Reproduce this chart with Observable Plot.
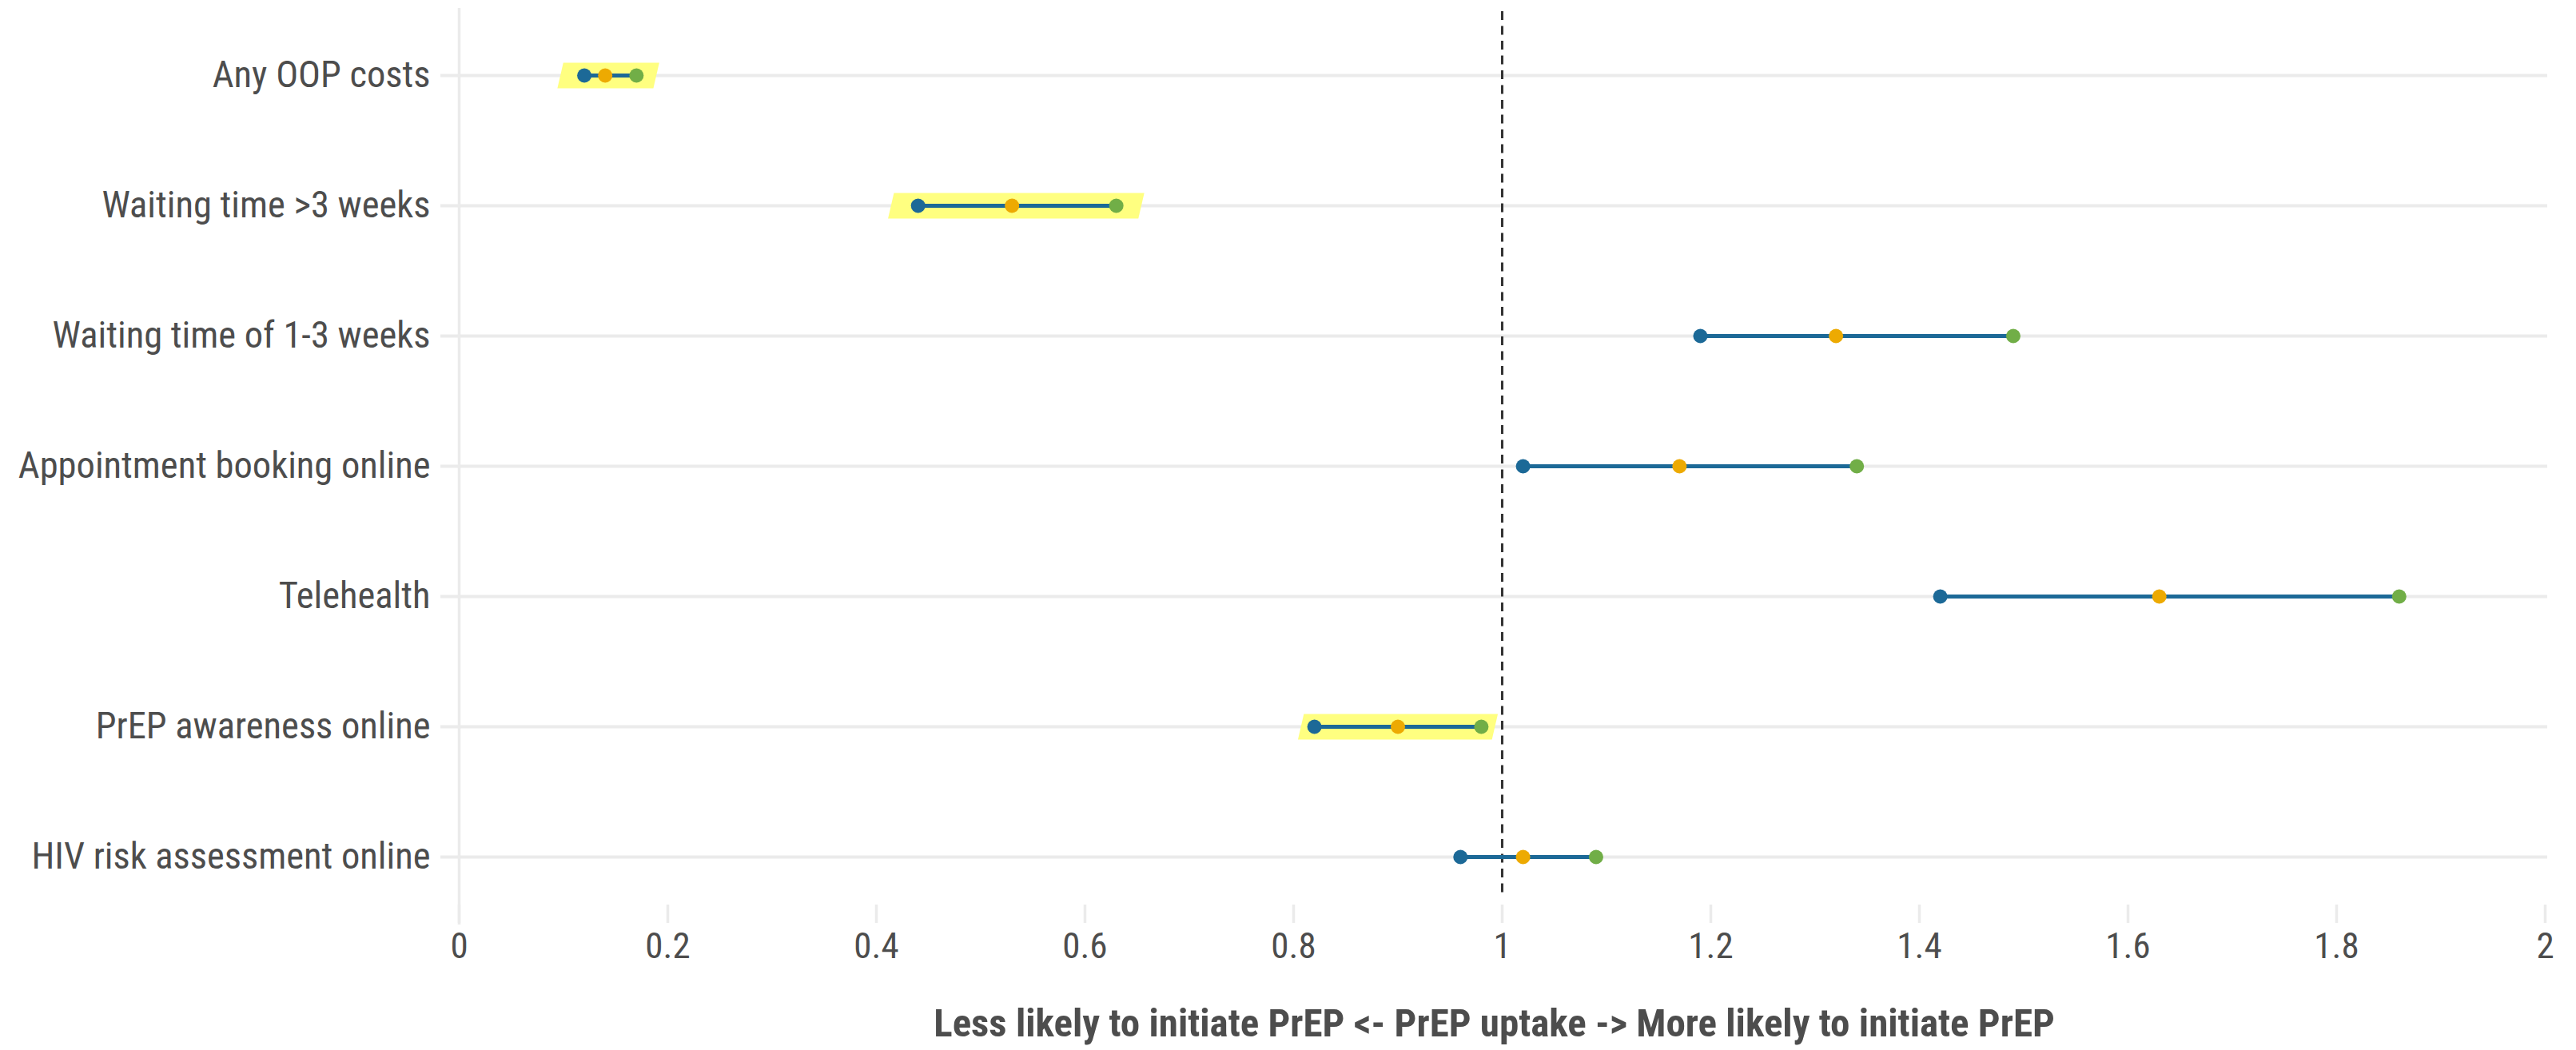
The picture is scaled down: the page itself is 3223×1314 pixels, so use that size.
<!DOCTYPE html>
<html><head><meta charset="utf-8">
<script src="https://cdn.jsdelivr.net/npm/d3@7"></script>
<script src="https://cdn.jsdelivr.net/npm/@observablehq/plot@0.6"></script>
<style>
html,body{margin:0;padding:0;background:#fff;}
#chart svg{display:block;}
</style></head><body><div id="chart"></div>
<script>
const categories = ["Any OOP costs", "Waiting time >3 weeks", "Waiting time of 1-3 weeks", "Appointment booking online", "Telehealth", "PrEP awareness online", "HIV risk assessment online"];
const lower    = [0.12, 0.44, 1.19, 1.02, 1.42, 0.82, 0.96];
const estimate = [0.14, 0.53, 1.32, 1.17, 1.63, 0.90, 1.02];
const upper    = [0.17, 0.63, 1.49, 1.34, 1.86, 0.98, 1.09];
const highlighted   = ["Any OOP costs", "Waiting time >3 weeks", "PrEP awareness online"];
const highlightFrom = [0.097, 0.414, 0.807];
const highlightTo   = [0.189, 0.654, 0.993];
const xTicks = [0, 0.2, 0.4, 0.6, 0.8, 1, 1.2, 1.4, 1.6, 1.8, 2];
const xTickLabels = ["0", "0.2", "0.4", "0.6", "0.8", "1", "1.2", "1.4", "1.6", "1.8", "2"];
const referenceValue = [1];
const zeroLine = [0];
const xTitle = "Less likely to initiate PrEP <- PrEP uptake -> More likely to initiate PrEP";

const rows = categories.map((c, i) => ({cat: c, lo: lower[i], est: estimate[i], hi: upper[i]}));
const hl = highlighted.map((c, i) => ({cat: c, from: highlightFrom[i], to: highlightTo[i]}));

const FONT = '"Roboto Condensed", "Liberation Sans Narrow", "DejaVu Sans Condensed", Roboto, sans-serif';
const GRID = "#ebebeb";
const TEXT = "#4d4d4d";
const BLUE = "#1c6997", ORANGE = "#edaa02", GREEN = "#71ae47";

const svg = Plot.plot({
  width: 3223,
  height: 1314,
  marginLeft: 551,
  marginRight: 36,
  marginTop: 14,
  marginBottom: 182,
  style: {fontFamily: FONT, fontSize: "46px", color: TEXT, background: "#fff"},
  x: {domain: [0, 2], insetLeft: 23, insetRight: 3},
  y: {type: "point", domain: categories, padding: 0, insetTop: 78, insetBottom: 59},
  marks: [
    Plot.gridY({stroke: GRID, strokeOpacity: 1, strokeWidth: 4}),
    Plot.ruleX(zeroLine, {stroke: GRID, strokeWidth: 3.5, insetTop: -4, insetBottom: -25}),
    Plot.axisX({ticks: xTicks, tickSize: 23, stroke: GRID, strokeWidth: 3.5, fill: "none"}),
    Plot.axisX({ticks: xTicks, tickSize: 0, tickPadding: 35, fill: TEXT, fontSize: 45,
      tickFormat: (d) => xTickLabels[xTicks.indexOf(d)], label: null}),
    Plot.axisY({tickSize: 0, tickPadding: 13, fill: TEXT, fontSize: 46.5, label: null}),
    Plot.link(hl, {x1: "from", x2: "to", y1: "cat", y2: "cat", stroke: "#ffff80", strokeWidth: 32}),
    Plot.ruleX(referenceValue, {stroke: "#333333", strokeWidth: 3, strokeDasharray: "11,7.5", insetBottom: 15}),
    Plot.ruleY(rows, {y: "cat", x1: "lo", x2: "hi", stroke: BLUE, strokeWidth: 5}),
    Plot.dot(rows, {x: "lo", y: "cat", r: 9, fill: BLUE}),
    Plot.dot(rows, {x: "est", y: "cat", r: 9, fill: ORANGE}),
    Plot.dot(rows, {x: "hi", y: "cat", r: 9, fill: GREEN}),
    Plot.text([xTitle], {frameAnchor: "bottom", dy: 164, fontWeight: "bold", fontSize: 49, fill: TEXT, fontFamily: FONT})
  ]
});

d3.select(svg).selectAll('g[aria-label="link"] path')
  .style("transform-box", "fill-box")
  .style("transform-origin", "center")
  .style("transform", "skewX(-13deg)");

document.getElementById("chart").appendChild(svg);
</script></body></html>
